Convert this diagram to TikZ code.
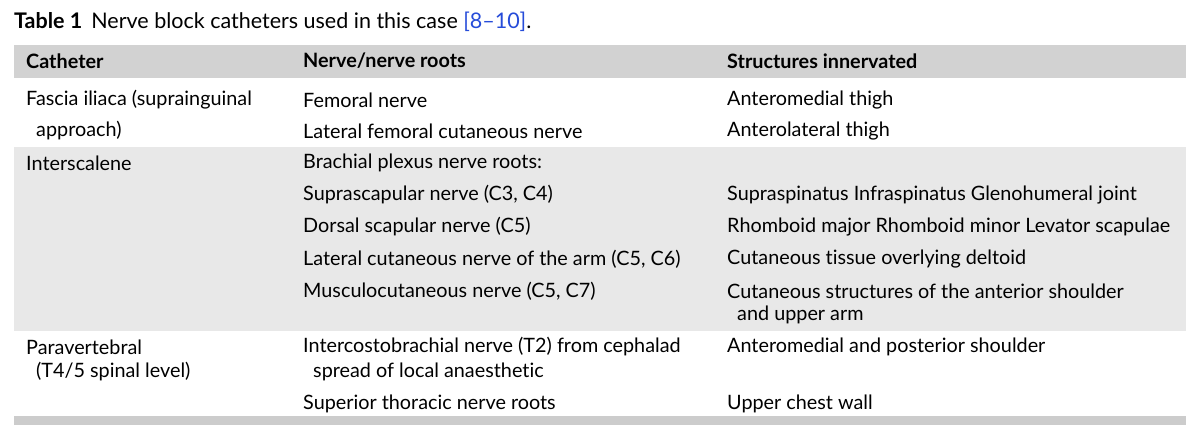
\documentclass[tikz,border=0pt]{standalone}
\usepackage{fontspec}
\setmainfont[Ligatures=NoCommon]{Lato}
\begin{document}
\begin{tikzpicture}[x=1pt,y=-1pt,
  t/.style={anchor=west,inner sep=0pt,font=\fontsize{19.8}{22}\selectfont},
  h/.style={t,font=\fontsize{19.8}{22}\selectfont\bfseries}]
\useasboundingbox[fill=white] (0,0) rectangle (1200,429);
\fill[gray!35] (14,45) rectangle (1186,78);
\fill[gray!18] (14,147) rectangle (1186,331);
\fill[gray!40] (14,416) rectangle (1186,425);
\node[t,font=\fontsize{21.5}{24}\selectfont] (cap) at (14,22) {\textbf{Table 1}\hspace{9pt}Nerve block catheters used in this case \textcolor[rgb]{0.15,0.3,0.85}{[8--10]}.};
\node[h] (h1) at (26,61) {Catheter};
\node[h] (h2) at (303,61) {Nerve/nerve roots};
\node[h] (h3) at (727,61) {Structures innervated};
\node[t] (a1) at (26,100) {Fascia iliaca (suprainguinal};
\node[t] (a2) at (36,131) {approach)};
\node[t] (b1) at (303,100) {Femoral nerve};
\node[t] (c1) at (727,100) {Anteromedial thigh};
\node[t] (b2) at (303,131) {Lateral femoral cutaneous nerve};
\node[t] (c2) at (727,131) {Anterolateral thigh};
\node[t] (a3) at (26,163) {Interscalene};
\node[t] (b3) at (303,163) {Brachial plexus nerve roots:};
\node[t] (b4) at (303,195) {Suprascapular nerve (C3, C4)};
\node[t] (c4) at (727,195) {Supraspinatus Infraspinatus Glenohumeral joint};
\node[t] (b5) at (303,227) {Dorsal scapular nerve (C5)};
\node[t] (c5) at (727,227) {Rhomboid major Rhomboid minor Levator scapulae};
\node[t] (b6) at (303,259) {Lateral cutaneous nerve of the arm (C5, C6)};
\node[t] (c6) at (727,259) {Cutaneous tissue overlying deltoid};
\node[t] (b7) at (303,291) {Musculocutaneous nerve (C5, C7)};
\node[t] (c7) at (727,291) {Cutaneous structures of the anterior shoulder};
\node[t] (c7b) at (737,315) {and upper arm};
\node[t] (a4) at (26,347) {Paravertebral};
\node[t] (a5) at (36,372) {(T4/5 spinal level)};
\node[t] (b8) at (303,347) {Intercostobrachial nerve (T2) from cephalad};
\node[t] (b8b) at (313,372) {spread of local anaesthetic};
\node[t] (c8) at (727,347) {Anteromedial and posterior shoulder};
\node[t] (b9) at (303,404) {Superior thoracic nerve roots};
\node[t] (c9) at (727,404) {Upper chest wall};
\end{tikzpicture}
\end{document}
